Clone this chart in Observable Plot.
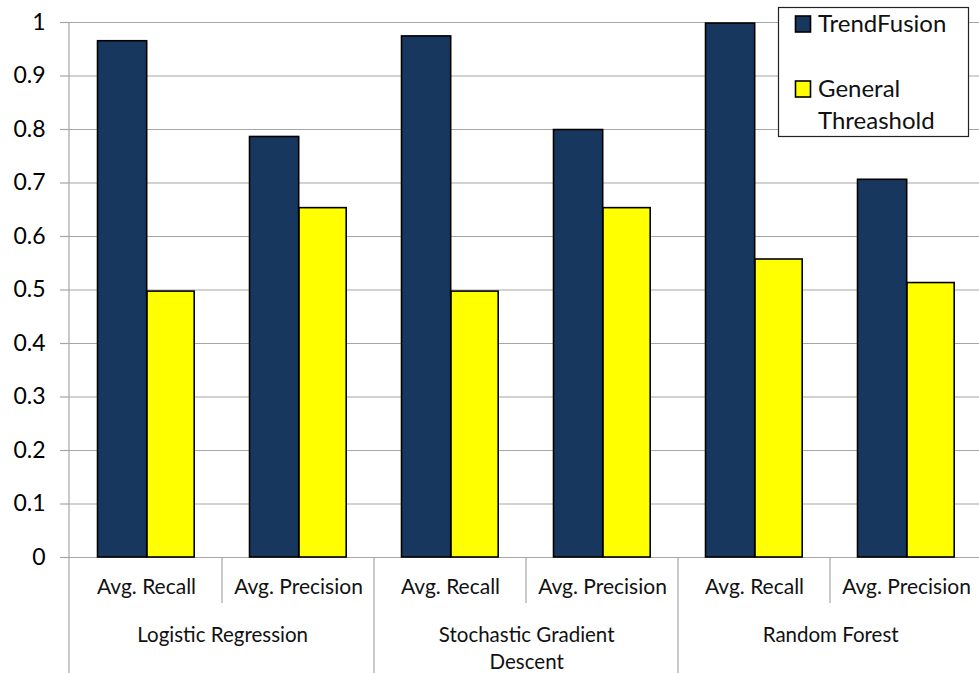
<!DOCTYPE html>
<html><head><meta charset="utf-8">
<script src="https://cdn.jsdelivr.net/npm/d3@7"></script>
<script src="https://cdn.jsdelivr.net/npm/@observablehq/plot@0.6"></script>
<style>body{margin:0;background:#fff} svg{display:block}</style>
</head><body><div id="chart"></div>
<script>
const groups = ["Logistic Regression", "Stochastic Gradient\nDescent", "Random Forest"];
const metrics = ["Avg. Recall", "Avg. Precision"];
const series = ["TrendFusion", "General Threashold"];
const legendLines = [["TrendFusion"], ["General", "Threashold"]];
const trendFusion = [0.965, 0.786, 0.974, 0.799, 0.998, 0.706];
const generalThreshold = [0.497, 0.653, 0.497, 0.653, 0.557, 0.513];
const yTicks = [0, 0.1, 0.2, 0.3, 0.4, 0.5, 0.6, 0.7, 0.8, 0.9, 1];
const colors = ["#17375e", "#ffff00"];

const cells = groups.flatMap((g, gi) => metrics.map((m, mi) => ({key: `${gi}-${mi}`, group: g, metric: m, gi, mi})));
const data = cells.flatMap((c, i) => [
  {cell: c.key, series: series[0], value: trendFusion[i]},
  {cell: c.key, series: series[1], value: generalThreshold[i]}
]);
const groupFirst = cells.filter(c => c.mi === 0);

const W = 979, H = 673, mL = 69, mR = -4, mT = 22, mB = 116;
const bw = (W - mL - mR) / cells.length;
const barW1 = 49.5, barW2 = 47.5;
const center = bw / 2 + 0.85;
const font = "Lato, 'Open Sans', sans-serif";
const gridColor = "#a6a6a6";

const plot = Plot.plot({
  width: W, height: H,
  marginLeft: mL, marginRight: mR, marginTop: mT, marginBottom: mB,
  style: {fontFamily: font, color: "#000", background: "#fff", overflow: "hidden"},
  x: {domain: cells.map(c => c.key), padding: 0, axis: null},
  y: {domain: [0, 1], axis: null},
  color: {domain: series, range: colors},
  marks: [
    Plot.gridY(yTicks, {stroke: gridColor, strokeOpacity: 1, strokeWidth: 1.2}),
    Plot.axisY(yTicks, {tickSize: 9, tickPadding: 15, stroke: gridColor, strokeWidth: 1.2, fontSize: 23,
      tickFormat: d => String(+d.toFixed(1)), label: null}),
    Plot.barY(data.filter(d => d.series === series[0]), {x: "cell", y: "value", fill: "series",
      stroke: "#000", strokeWidth: 1.6, insetLeft: center - barW1, insetRight: bw - center}),
    Plot.barY(data.filter(d => d.series === series[1]), {x: "cell", y: "value", fill: "series",
      stroke: "#000", strokeWidth: 1.6, insetLeft: center, insetRight: bw - center - barW2}),
    Plot.text(cells, {x: "key", text: "metric", frameAnchor: "bottom", lineAnchor: "top",
      dy: 22, fontSize: 21, fill: "#111"}),
    Plot.text(groupFirst, {x: "key", text: "group", frameAnchor: "bottom", lineAnchor: "top",
      dx: bw / 2, dy: 66, fontSize: 20.5, lineHeight: 1.3, fill: "#111"})
  ]
});

const svg = d3.select(plot);
const xs = plot.scale("x");
const yBase = mT + (H - mT - mB);
const lines = svg.append("g").attr("stroke", gridColor).attr("stroke-width", 1.2);
// y axis line
lines.append("line").attr("x1", mL).attr("x2", mL).attr("y1", mT).attr("y2", H);
// dividers at band boundaries
cells.forEach((c, i) => {
  if (i === 0) return;
  const x = xs.apply(c.key);
  lines.append("line").attr("x1", x).attr("x2", x).attr("y1", yBase)
    .attr("y2", c.mi === 0 ? H : yBase + 46);
});

// legend
const lg = svg.append("g").attr("font-family", font).attr("font-size", 24).attr("text-anchor", "start");
lg.append("rect").attr("x", 778.5).attr("y", 7.5).attr("width", 190).attr("height", 129)
  .attr("fill", "#fff").attr("stroke", "#222").attr("stroke-width", 1.2);
const legendY = [16, 81];
series.forEach((s, i) => {
  const cy = legendY[i];
  lg.append("rect").attr("x", 795.5).attr("y", cy).attr("width", 15).attr("height", 16)
    .attr("fill", plot.scale("color").apply(s)).attr("stroke", "#000").attr("stroke-width", 1.6);
  legendLines[i].forEach((t, j) => {
    lg.append("text").attr("x", 818).attr("y", cy + 16 + j * 32).attr("fill", "#111")
      .attr("text-anchor", "start").text(t);
  });
});

document.getElementById("chart").append(plot);
</script>
</body></html>
